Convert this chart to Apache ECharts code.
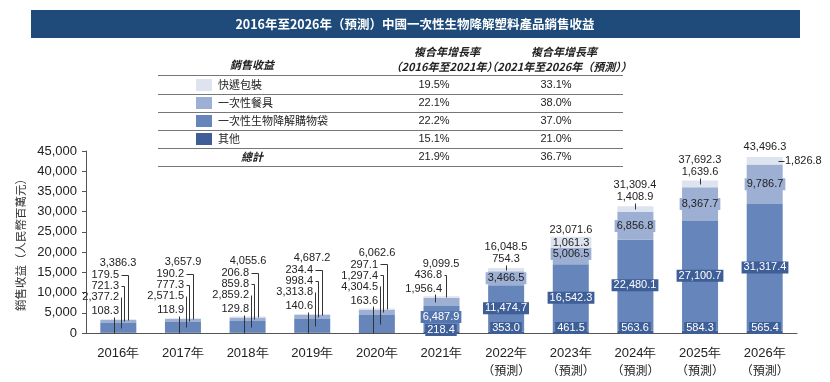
<!DOCTYPE html>
<html><head><meta charset="utf-8">
<script src="https://cdn.jsdelivr.net/npm/echarts@6/dist/echarts.min.js"></script>
<style>html,body{margin:0;padding:0;background:#fff}#c{width:830px;height:382px}</style>
</head><body><div id="c"></div><script>
// ---- data ----
const titleText = '2016年至2026年（預測）中國一次性生物降解塑料產品銷售收益';
const categories = ['2016年','2017年','2018年','2019年','2020年','2021年','2022年\n（預測）','2023年\n（預測）','2024年\n（預測）','2025年\n（預測）','2026年\n（預測）'];
const other     = [108.3,118.9,129.8,140.6,163.6,218.4,353.0,461.5,563.6,584.3,565.4];
const bags      = [2377.2,2571.5,2859.2,3313.8,4304.5,6487.9,11474.7,16542.3,22480.1,27100.7,31317.4];
const tableware = [721.3,777.3,859.8,998.4,1297.4,1956.4,3466.5,5006.5,6856.8,8367.7,9786.7];
const express   = [179.5,190.2,206.8,234.4,297.1,436.8,754.3,1061.3,1408.9,1639.6,1826.8];
const totals    = [3386.3,3657.9,4055.6,4687.2,6062.6,9099.5,16048.5,23071.6,31309.4,37692.3,43496.3];
const tableNames = ['快遞包裝','一次性餐具','一次性生物降解購物袋','其他','總計'];
const cagr1621 = ['19.5%','22.1%','22.2%','15.1%','21.9%'];
const cagr2126 = ['33.1%','38.0%','37.0%','21.0%','36.7%'];
const yMax = 45000, yInterval = 5000;
const yName = '銷售收益（人民幣百萬元）';

// ---- styles ----
const COL = {express:'#dde3ef', tableware:'#9db0d4', bags:'#6585bb', other:'#3e5e97'};
const NUMF = '"Liberation Sans", Arial, sans-serif';
const CJKF = '"Noto Sans CJK TC", "Noto Sans CJK SC", sans-serif';
const fmt = v => v.toLocaleString('en-US',{minimumFractionDigits:1, maximumFractionDigits:1});

const chart = echarts.init(document.getElementById('c'), null, {renderer:'canvas'});

// table graphics
const g = [];
g.push({type:'rect', shape:{x:31,y:10,width:769,height:28}, style:{fill:'#1f4b7b'}});
g.push({type:'text', x:415, y:24, style:{text:titleText, fill:'#fff', fontSize:12.5, fontWeight:'bold', fontFamily:CJKF, align:'center', verticalAlign:'middle', textAlign:'center', textVerticalAlign:'middle'}});
const hdr = (t,x,y)=>g.push({type:'text', x, y, style:{text:t, fill:'#222', fontSize:11, fontWeight:'bold', fontStyle:'italic', fontFamily:CJKF, align:'center', verticalAlign:'middle', textAlign:'center', textVerticalAlign:'middle'}});
hdr('銷售收益',252,65);
hdr('複合年增長率',447,52); hdr('（2016年至2021年）',444,67);
hdr('複合年增長率',564,52); hdr('（2021年至2026年（預測））',559,67);
[75,94,112,130,148,166].forEach(y=>g.push({type:'line', shape:{x1:158,y1:y+0.5,x2:623,y2:y+0.5}, style:{stroke:'#777', lineWidth:1}}));
const swCols = [COL.express, COL.tableware, COL.bags, COL.other];
const rowY = [85,103,121,139,157];
tableNames.forEach((n,k)=>{
  const y = rowY[k];
  if (k<4) {
    g.push({type:'rect', shape:{x:196,y:y-6,width:16,height:12}, style:{fill:swCols[k]}});
    g.push({type:'text', x:218, y, style:{text:n, fill:'#222', fontSize:11, fontFamily:CJKF, align:'left', verticalAlign:'middle', textAlign:'left', textVerticalAlign:'middle'}});
  } else {
    g.push({type:'text', x:252, y, style:{text:n, fill:'#222', fontSize:11, fontStyle:'italic', fontWeight:'bold', fontFamily:CJKF, align:'center', verticalAlign:'middle', textAlign:'center', textVerticalAlign:'middle'}});
  }
  g.push({type:'text', x:434, y, style:{text:cagr1621[k], fill:'#222', fontSize:11, fontFamily:NUMF, align:'center', verticalAlign:'middle', textAlign:'center', textVerticalAlign:'middle'}});
  g.push({type:'text', x:556, y, style:{text:cagr2126[k], fill:'#222', fontSize:11, fontFamily:NUMF, align:'center', verticalAlign:'middle', textAlign:'center', textVerticalAlign:'middle'}});
});

function renderLabels(params, api) {
  const i = api.value(0);
  const base = api.coord([i, 0]);
  const cx = Math.round(base[0]), y0 = base[1];
  const yAt = v => api.coord([i, v])[1];
  const o = other[i], b = bags[i], t = tableware[i], e = express[i], tot = totals[i];
  const yTop = yAt(tot);
  const midO = yAt(o/2), midB = yAt(o + b/2), midT = yAt(o + b + t/2), midE = yAt(o + b + t + e/2);
  const ch = [];
  const txt = (s, x, y, align, extra) => ch.push({type:'text', z2:20, style:Object.assign({text:s, x, y, align, verticalAlign:'middle', textAlign:align, textVerticalAlign:'middle', fontSize:11, fontFamily:NUMF, fill:'#222'}, extra||{})});
  const box = (s, y, fill, bg) => txt(s, cx, y, 'center', {fill, backgroundColor:bg, padding:[1,2,0,2]});
  const line = pts => ch.push({type:'polyline', z2:15, shape:{points:pts.map(p=>[Math.round(p[0])+0.5, Math.round(p[1])+0.5])}, style:{stroke:'#333', lineWidth:1, fill:null}});
  if (i <= 4) {
    const rx = cx + 1;
    txt(fmt(tot), cx, yTop-56, 'center');
    txt(fmt(e), rx, yTop-44, 'right'); line([[rx+2, yTop-44],[cx+10, yTop-44],[cx+10, midE]]);
    txt(fmt(t), rx, yTop-33, 'right'); line([[rx+2, yTop-33],[cx+6, yTop-33],[cx+6, midT]]);
    txt(fmt(b), rx, yTop-22, 'right'); line([[rx+2, yTop-22],[cx+3, yTop-22],[cx+3, midB]]);
    txt(fmt(o), rx, yTop-8, 'right'); line([[cx-4, yTop-2],[cx-4, midO]]);
  } else if (i === 5) {
    txt(fmt(tot), cx, yTop-32, 'center');
    txt(fmt(e), cx+1, yTop-21, 'right'); line([[cx+3, yTop-21],[cx+5, yTop-21],[cx+5, midE]]);
    txt(fmt(t), cx+1, yTop-7, 'right'); line([[cx-6, yTop-2],[cx-6, midT]]);
    box(fmt(b), midB-2, '#fff', '#5475ae');
    box(fmt(o), y0-3, '#fff', COL.other);
  } else {
    if (i === 7) {
      txt(fmt(tot), cx, yTop-10, 'center');
      box(fmt(e), midE+1, '#222', COL.express);
    } else if (i === 10) {
      txt(fmt(tot), cx, yTop-10, 'center');
      line([[cx+13, midE],[cx+19, midE]]);
      txt(fmt(e), cx+20, midE, 'left');
    } else {
      txt(fmt(tot), cx, yTop-21, 'center');
      txt(fmt(e), cx, yTop-9, 'center'); line([[cx, yTop-3],[cx, midE]]);
    }
    box(fmt(t), midT, '#222', COL.tableware);
    box(fmt(b), midB, '#fff', COL.other);
    box(fmt(o), y0-5, '#fff', COL.other);
  }
  return {type:'group', children:ch};
}

const barBase = {type:'bar', stack:'total', barWidth:36, emphasis:{disabled:true}, silent:true};
const option = {
  animation:false,
  backgroundColor:'#fff',
  graphic:{elements:g},
  grid:{left:86, right:33, top:151, bottom:49, containLabel:false},
  xAxis:{type:'category', data:categories,
    axisLine:{lineStyle:{color:'#555', width:1}}, axisTick:{show:false},
    axisLabel:{color:'#222', fontSize:13, fontFamily:NUMF, margin:12, lineHeight:17, interval:0,
      formatter: v => v.replace('（預測）','{p|（預測）}'),
      rich:{p:{fontSize:12, fontFamily:CJKF, color:'#222', lineHeight:17}}}},
  yAxis:{type:'value', min:0, max:yMax, interval:yInterval,
    name:yName, nameLocation:'middle', nameRotate:90, nameGap:43,
    nameTextStyle:{fontSize:11.5, color:'#333', fontFamily:CJKF},
    axisLine:{show:true, lineStyle:{color:'#555'}},
    axisTick:{show:true, inside:false, length:4, lineStyle:{color:'#555'}},
    axisLabel:{color:'#222', fontSize:13, fontFamily:NUMF, margin:9, formatter:v=>v.toLocaleString('en-US')},
    splitLine:{show:false}},
  series:[
    Object.assign({name:'其他', data:other, itemStyle:{color:COL.other}}, barBase),
    Object.assign({name:'一次性生物降解購物袋', data:bags, itemStyle:{color:COL.bags}}, barBase),
    Object.assign({name:'一次性餐具', data:tableware, itemStyle:{color:COL.tableware}}, barBase),
    Object.assign({name:'快遞包裝', data:express, itemStyle:{color:COL.express}}, barBase),
    {type:'custom', name:'labels', z:10, silent:true, clip:false,
      data: categories.map((c,i)=>[i, totals[i]]), encode:{x:0, y:1},
      renderItem: renderLabels}
  ]
};
chart.setOption(option);
</script></body></html>
